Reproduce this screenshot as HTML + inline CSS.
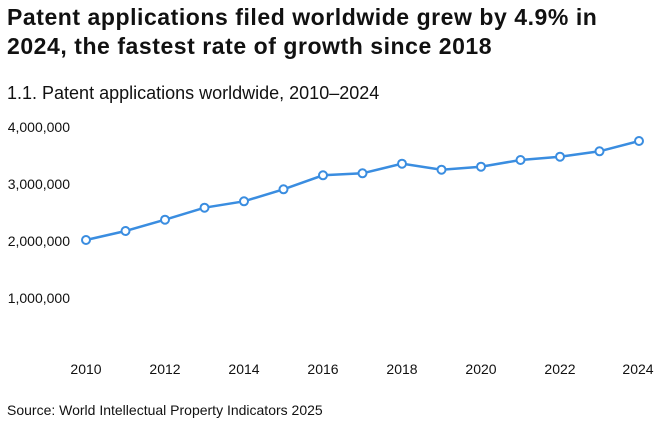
<!DOCTYPE html>
<html><head><meta charset="utf-8"><style>
body{margin:0;background:#fff;width:660px;height:427px;overflow:hidden;font-family:"Liberation Sans",sans-serif;color:#111}
h1{position:absolute;left:7px;top:3px;margin:0;font-size:23px;line-height:29px;font-weight:bold;letter-spacing:0.55px}
.sub{position:absolute;left:7px;top:83px;font-size:18px}
.src{position:absolute;left:7px;top:402px;font-size:14px}
</style></head><body>
<h1>Patent applications filed worldwide grew by 4.9% in<br>2024, the fastest rate of growth since 2018</h1>
<div class="sub">1.1. Patent applications worldwide, 2010–2024</div>
<svg width="660" height="427" style="position:absolute;left:0;top:0" font-family="Liberation Sans, sans-serif" font-size="14" fill="#111">
<g text-anchor="end">
<text x="70" y="132">4,000,000</text>
<text x="70" y="189">3,000,000</text>
<text x="70" y="246">2,000,000</text>
<text x="70" y="303">1,000,000</text>
</g>
<g text-anchor="middle">
<text x="86" y="374">2010</text><text x="165" y="374">2012</text><text x="244" y="374">2014</text><text x="323" y="374">2016</text><text x="402" y="374">2018</text><text x="481" y="374">2020</text><text x="560" y="374">2022</text><text x="638" y="374">2024</text>
</g>
<polyline fill="none" stroke="#3a8de0" stroke-width="2.5" points="86,240 125.5,231 165,219.7 204.5,207.7 244,201.3 283.5,189.3 323,175.3 362.5,173.3 402,163.7 441.5,169.7 481,166.7 520.5,160 560,156.7 599.5,151.3 639,141"/>
<g fill="#fff" stroke="#3a8de0" stroke-width="2">
<circle cx="86" cy="240" r="4"/><circle cx="125.5" cy="231" r="4"/><circle cx="165" cy="219.7" r="4"/><circle cx="204.5" cy="207.7" r="4"/><circle cx="244" cy="201.3" r="4"/><circle cx="283.5" cy="189.3" r="4"/><circle cx="323" cy="175.3" r="4"/><circle cx="362.5" cy="173.3" r="4"/><circle cx="402" cy="163.7" r="4"/><circle cx="441.5" cy="169.7" r="4"/><circle cx="481" cy="166.7" r="4"/><circle cx="520.5" cy="160" r="4"/><circle cx="560" cy="156.7" r="4"/><circle cx="599.5" cy="151.3" r="4"/><circle cx="639" cy="141" r="4"/>
</g>
</svg>
<div class="src">Source: World Intellectual Property Indicators 2025</div>
</body></html>
